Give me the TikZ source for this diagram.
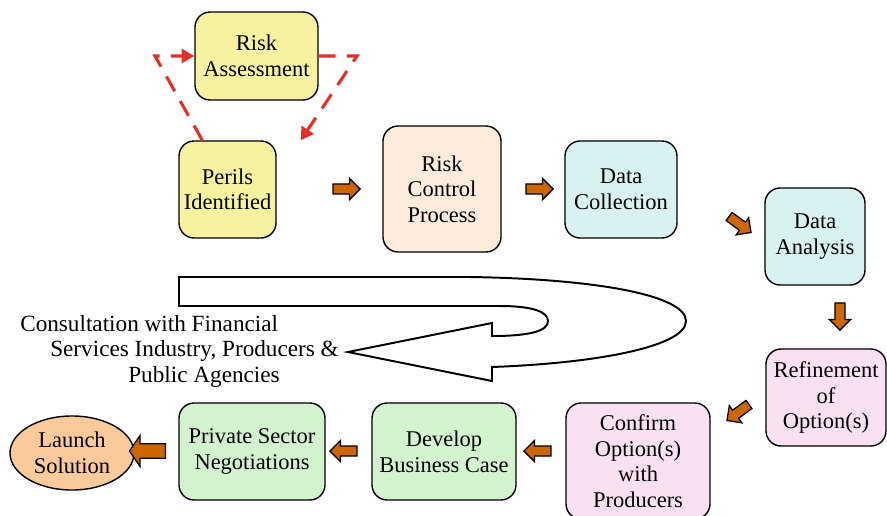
\documentclass[tikz,border=0pt]{standalone}
\usepackage{fontspec}
\setmainfont{Liberation Serif}
\usetikzlibrary{calc}
\usetikzlibrary{shapes.arrows}
\usetikzlibrary{shapes.geometric}
\usetikzlibrary{arrows.meta}
\definecolor{perilyellow}{RGB}{246,242,160}
\definecolor{controlpeach}{RGB}{253,236,220}
\definecolor{datacyan}{RGB}{216,242,242}
\definecolor{optionpink}{RGB}{249,224,242}
\definecolor{casegreen}{RGB}{211,243,207}
\definecolor{launchorange}{RGB}{250,202,154}
\definecolor{arrorange}{RGB}{204,102,0}
\definecolor{dashred}{RGB}{226,48,40}
\tikzset{
  box/.style={draw, line width=1pt, rounded corners=0.38cm, align=center,
    inner sep=0pt, font=\fontsize{16}{18.2}\selectfont},
  flowarr/.style={single arrow, draw, fill=arrorange, line width=0.9pt,
    inner sep=0.11cm, minimum height=0.68cm, single arrow head extend=0.14cm},
  perilloop/.style={draw=dashred, line width=2.2pt, dash pattern=on 12pt off 8pt,
    -{Triangle[length=9pt,width=10pt]}}
}

\begin{document}
\begin{tikzpicture}[x=0.025cm, y=-0.025cm]
  \useasboundingbox (0,0) rectangle (887,515);

  % risk loop
  \node [box, fill=perilyellow, minimum width=3.075cm, minimum height=2.2cm] (ra) at (256.5,56) {Risk\\Assessment};
  \node [box, fill=perilyellow, minimum width=2.425cm, minimum height=2.425cm] (pi) at (227.5,189.5) {Perils\\Identified};
  \coordinate (lc) at (155,56);
  \coordinate (rc) at (357,56);
  \draw [perilloop] ($(pi.north west)+(24,0)$) -- (lc) -- (ra.west);
  \draw [perilloop] (ra.east) -- (rc) -- ($(pi.north east)+(24,0)$);

  % top row
  \node [box, fill=controlpeach, minimum width=2.95cm, minimum height=3.15cm] (rcp) at (442,189) {Risk\\Control\\Process};
  \node [box, fill=datacyan, minimum width=2.8cm, minimum height=2.425cm] (dc) at (621,189.5) {Data\\Collection};
  \node [box, fill=datacyan, minimum width=2.5cm, minimum height=2.425cm] (da) at (815,236.5) {Data\\Analysis};

  % bottom row
  \node [box, fill=optionpink, minimum width=3cm, minimum height=2.425cm] (ro) at (826,397.5) {Refinement\\of\\Option(s)};
  \node [box, fill=optionpink, minimum width=3.6cm, minimum height=2.9cm] (co) at (638,461) {Confirm\\Option(s)\\with\\Producers};
  \node [box, fill=casegreen, minimum width=3.6cm, minimum height=2.425cm] (dbc) at (444,451.5) {Develop\\Business Case};
  \node [box, fill=casegreen, minimum width=3.65cm, minimum height=2.425cm] (ps) at (252,451.5) {Private Sector\\Negotiations};
  \node [ellipse, draw, line width=1pt, fill=launchorange, align=center, inner sep=0pt,
    font=\fontsize{16}{18.2}\selectfont, minimum width=3.1cm, minimum height=1.85cm] (ls) at (72,453) {Launch\\Solution};

  % flow arrows
  \node [flowarr] (a1) at (344,189) {};
  \node [flowarr] (a2) at (537,189) {};
  \node [flowarr, rotate=-36] (a3) at (738,223) {};
  \node [flowarr, rotate=-90] (a4) at (840,314) {};
  \node [flowarr, rotate=-144] (a5) at (740,411) {};
  \node [flowarr, rotate=180] (a6) at (540,451) {};
  \node [flowarr, rotate=180] (a7) at (346,451) {};
  \node [flowarr, rotate=180, inner sep=0.165cm, single arrow head extend=0.21cm,
    single arrow tip angle=112, minimum height=0.9cm] (a8) at (150,451) {};

  % consultation loop
  \draw [line width=1.4pt, line join=miter] (179,277) -- (470,277)
    .. controls (600,279) and (686,296) .. (686,321)
    .. controls (686,346) and (600,363) .. (492,367)
    -- (492,381) -- (348,352) -- (492,323) -- (492,336)
    .. controls (530,336) and (548,331) .. (548,321)
    .. controls (548,311) and (530,306) .. (500,306)
    -- (179,306) -- cycle;
  \node [anchor=north west, align=left, inner sep=0pt,
    font=\fontsize{16.5}{18.2}\selectfont] (consult) at (20,315)
    {Consultation with Financial\\\hspace*{0.75cm}Services Industry, Producers \&\\\hspace*{2.7cm}Public Agencies};
\end{tikzpicture}
\end{document}
